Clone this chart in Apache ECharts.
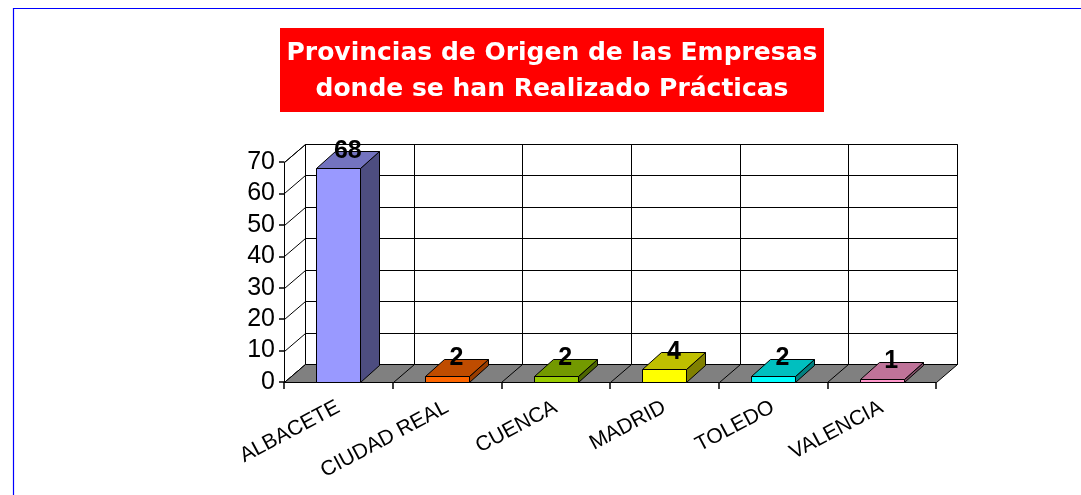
<!DOCTYPE html>
<html>
<head>
<meta charset="utf-8">
<script src="https://cdn.jsdelivr.net/npm/echarts@6/dist/echarts.min.js"></script>
<style>
html,body{margin:0;padding:0;background:#fff;}
#chart{width:1081px;height:495px;}
</style>
</head>
<body>
<div id="chart"></div>
<script>
const titleText = 'Provincias de Origen de las Empresas\ndonde se han Realizado Prácticas';
const categories = ['ALBACETE', 'CIUDAD REAL', 'CUENCA', 'MADRID', 'TOLEDO', 'VALENCIA'];
const values = [68, 2, 2, 4, 2, 1];
const frontColors = ['#9999FF', '#FF6600', '#99CC00', '#FFFF00', '#00FFFF', '#FF99CC'];
const topColors = ['#7373BF', '#BF4C00', '#739900', '#BFBF00', '#00BFBF', '#BF7399'];
const sideColors = ['#4D4D80', '#993D00', '#4D6600', '#808000', '#008080', '#804D66'];
const yMin = 0, yMax = 70, yStep = 10;

const DX = 21, DY = -18;      // wall depth
const BDX = 19, BDY = -17;    // bar depth
const BAR_RATIO = 0.405;

function c(v) { return Math.round(v) + 0.5; }
function line(x1, y1, x2, y2) {
  return { type: 'line', shape: { x1: c(x1), y1: c(y1), x2: c(x2), y2: c(y2) },
           style: { stroke: '#000', lineWidth: 1 } };
}
function poly(pts, fill) {
  return { type: 'polygon', shape: { points: pts.map(p => [c(p[0]), c(p[1])]) },
           style: { fill: fill, stroke: '#000', lineWidth: 1 } };
}

const chart = echarts.init(document.getElementById('chart'), null, { renderer: 'canvas' });

const option = {
  backgroundColor: '#ffffff',
  animation: false,
  graphic: [
    { type: 'rect', silent: true, z: -10,
      shape: { x: 13.5, y: 8.5, width: 1200, height: 700 },
      style: { fill: null, stroke: '#0000FF', lineWidth: 1.2 } },
    { type: 'rect', silent: true, z: 10,
      shape: { x: 280, y: 28, width: 544, height: 84 },
      style: { fill: '#FF0000' } },
    { type: 'text', silent: true, z: 11, x: 552, y: 71,
      style: { text: titleText, fill: '#ffffff',
               font: 'bold 25px "DejaVu Sans"', fontSize: 25, fontWeight: 'bold', fontFamily: 'DejaVu Sans',
               textAlign: 'center', align: 'center', textVerticalAlign: 'middle', verticalAlign: 'middle',
               lineHeight: 36 } }
  ],
  grid: { left: 284, top: 162, width: 652, height: 220, containLabel: false },
  xAxis: {
    type: 'category',
    data: categories,
    boundaryGap: true,
    axisLine: { show: true, lineStyle: { color: '#000', width: 1 } },
    axisTick: { show: true, length: 7, inside: false, lineStyle: { color: '#000', width: 1.5 } },
    axisLabel: { interval: 0, rotate: 28, margin: 24, color: '#000', fontSize: 21,
                 fontFamily: '"Liberation Sans", Arial, sans-serif' },
    splitLine: { show: false }
  },
  yAxis: {
    type: 'value',
    min: yMin, max: yMax, interval: yStep,
    axisLine: { show: true, lineStyle: { color: '#000', width: 1 } },
    axisTick: { show: true, length: 5, inside: false, lineStyle: { color: '#000', width: 1.5 } },
    axisLabel: { margin: 9, color: '#000', fontSize: 25,
                 fontFamily: '"Liberation Sans", Arial, sans-serif' },
    splitLine: { show: false }
  },
  series: [
    {
      name: 'frame',
      type: 'custom',
      z: 1,
      clip: false,
      silent: true,
      data: [[0, 0]],
      encode: { x: 0, y: 1 },
      renderItem: function (params, api) {
        const bw = api.size([1, 0])[0];
        const x0 = api.coord([0, yMin])[0] - bw / 2;
        const n = categories.length;
        const x1 = x0 + n * bw;
        const yB = api.coord([0, yMin])[1];
        const yT = api.coord([0, yMax])[1];
        const ch = [];
        ch.push(poly([[x0, yB], [x0, yT], [x0 + DX, yT + DY], [x0 + DX, yB + DY]], '#ffffff'));
        ch.push(poly([[x0 + DX, yB + DY], [x0 + DX, yT + DY], [x1 + DX, yT + DY], [x1 + DX, yB + DY]], '#ffffff'));
        for (let v = yMin; v <= yMax; v += yStep) {
          const y = api.coord([0, v])[1];
          ch.push(line(x0, y, x0 + DX, y + DY));
          ch.push(line(x0 + DX, y + DY, x1 + DX, y + DY));
        }
        for (let k = 1; k < n; k++) {
          ch.push(line(x0 + DX + k * bw, yB + DY, x0 + DX + k * bw, yT + DY));
        }
        ch.push(poly([[x0, yB], [x1, yB], [x1 + DX, yB + DY], [x0 + DX, yB + DY]], '#808080'));
        for (let k = 1; k < n; k++) {
          ch.push(line(x0 + k * bw, yB, x0 + DX + k * bw, yB + DY));
        }
        return { type: 'group', children: ch };
      }
    },
    {
      name: 'Empresas',
      type: 'custom',
      z: 3,
      clip: false,
      data: values.map((v, i) => [i, v]),
      encode: { x: 0, y: 1 },
      renderItem: function (params, api) {
        const idx = api.value(0), val = api.value(1);
        const base = api.coord([idx, 0]);
        const top = api.coord([idx, val]);
        const bw = api.size([1, 0])[0];
        const w = bw * BAR_RATIO;
        const l = base[0] - w / 2, r = base[0] + w / 2;
        const yb = base[1], yt = top[1];
        const i = params.dataIndex;
        const ch = [];
        ch.push(poly([[r, yb], [r, yt], [r + BDX, yt + BDY], [r + BDX, yb + BDY]], sideColors[i]));
        ch.push(poly([[l, yt], [r, yt], [r + BDX, yt + BDY], [l + BDX, yt + BDY]], topColors[i]));
        ch.push(poly([[l, yb], [l, yt], [r, yt], [r, yb]], frontColors[i]));
        ch.push({ type: 'text', z2: 20,
          x: base[0] + BDX / 2, y: yt + BDY / 2 - 9,
          style: { text: String(val), fill: '#000',
                   font: 'bold 25px "Liberation Sans"', fontSize: 25, fontWeight: 'bold', fontFamily: 'Liberation Sans',
                   textAlign: 'center', align: 'center', textVerticalAlign: 'middle', verticalAlign: 'middle' } });
        return { type: 'group', children: ch };
      }
    }
  ]
};
chart.setOption(option);
</script>
</body>
</html>
